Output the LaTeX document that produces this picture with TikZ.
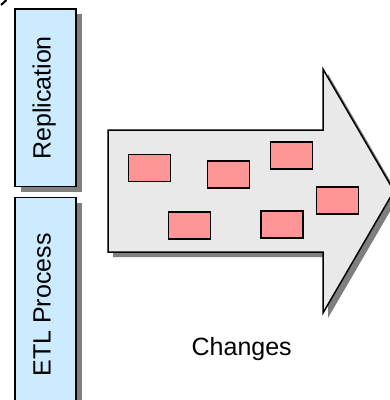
\documentclass[tikz,border=0pt]{standalone}
\usepackage{fontspec}
\setmainfont{Liberation Sans}
\definecolor{boxblue}{HTML}{CCEBFF}
\definecolor{notepink}{HTML}{FF9696}
\definecolor{arrowgray}{HTML}{E9E9E9}
\definecolor{shadowgray}{HTML}{7F7F7F}
\tikzset{
  shadowfill/.style={fill=shadowgray, draw=none},
  panel/.style={fill=boxblue, draw=black, line width=1.6pt},
  bigarrow/.style={fill=arrowgray, draw=black, line width=1.5pt, line join=miter},
  note/.style={rectangle, fill=notepink, draw=black, line width=1.4pt,
    minimum width=42pt, minimum height=27pt, inner sep=0pt},
  lbl/.style={font=\fontsize{25}{30}\selectfont, inner sep=0pt, text=black}
}
\begin{document}
\begin{tikzpicture}[x=1pt, y=-1pt]
\useasboundingbox (0,0) rectangle (390,400);
\clip (0,0) rectangle (390,400);

% stray stroke in the corner
\draw[line width=2pt] (1,5) -- (6.5,0);

% Replication panel
\fill[shadowfill] (20.5,14) rectangle (81.5,192);
\draw[panel] (15,9) rectangle (76,186.5);
\node[lbl, rotate=90, anchor=base] (repl) at (50.5,98) {Replication};

% ETL Process panel
\fill[shadowfill] (20.5,203) rectangle (81.5,420);
\draw[panel] (15,197.5) rectangle (76,415);
\node[lbl, rotate=90, anchor=base] (etl) at (50.5,305) {ETL Process};

% Block arrow carrying the changes
\fill[shadowfill, shift={(5,5)}]
  (108,130) -- (323,130) -- (323,69) -- (394,191) -- (323,313)
  -- (323,252) -- (108,252) -- cycle;
\draw[bigarrow]
  (108,130) -- (323,130) -- (323,69) -- (394,191) -- (323,313)
  -- (323,252) -- (108,252) -- cycle;

% Change records
\node[note] (c1) at (149.2,168) {};
\node[note] (c2) at (228.2,174.3) {};
\node[note] (c3) at (291.2,155.3) {};
\node[note] (c4) at (189.2,225.3) {};
\node[note] (c5) at (281.9,224.3) {};
\node[note] (c6) at (337.2,200.6) {};

\node[lbl, anchor=base] (changes) at (241.7,355) {Changes};
\end{tikzpicture}
\end{document}
